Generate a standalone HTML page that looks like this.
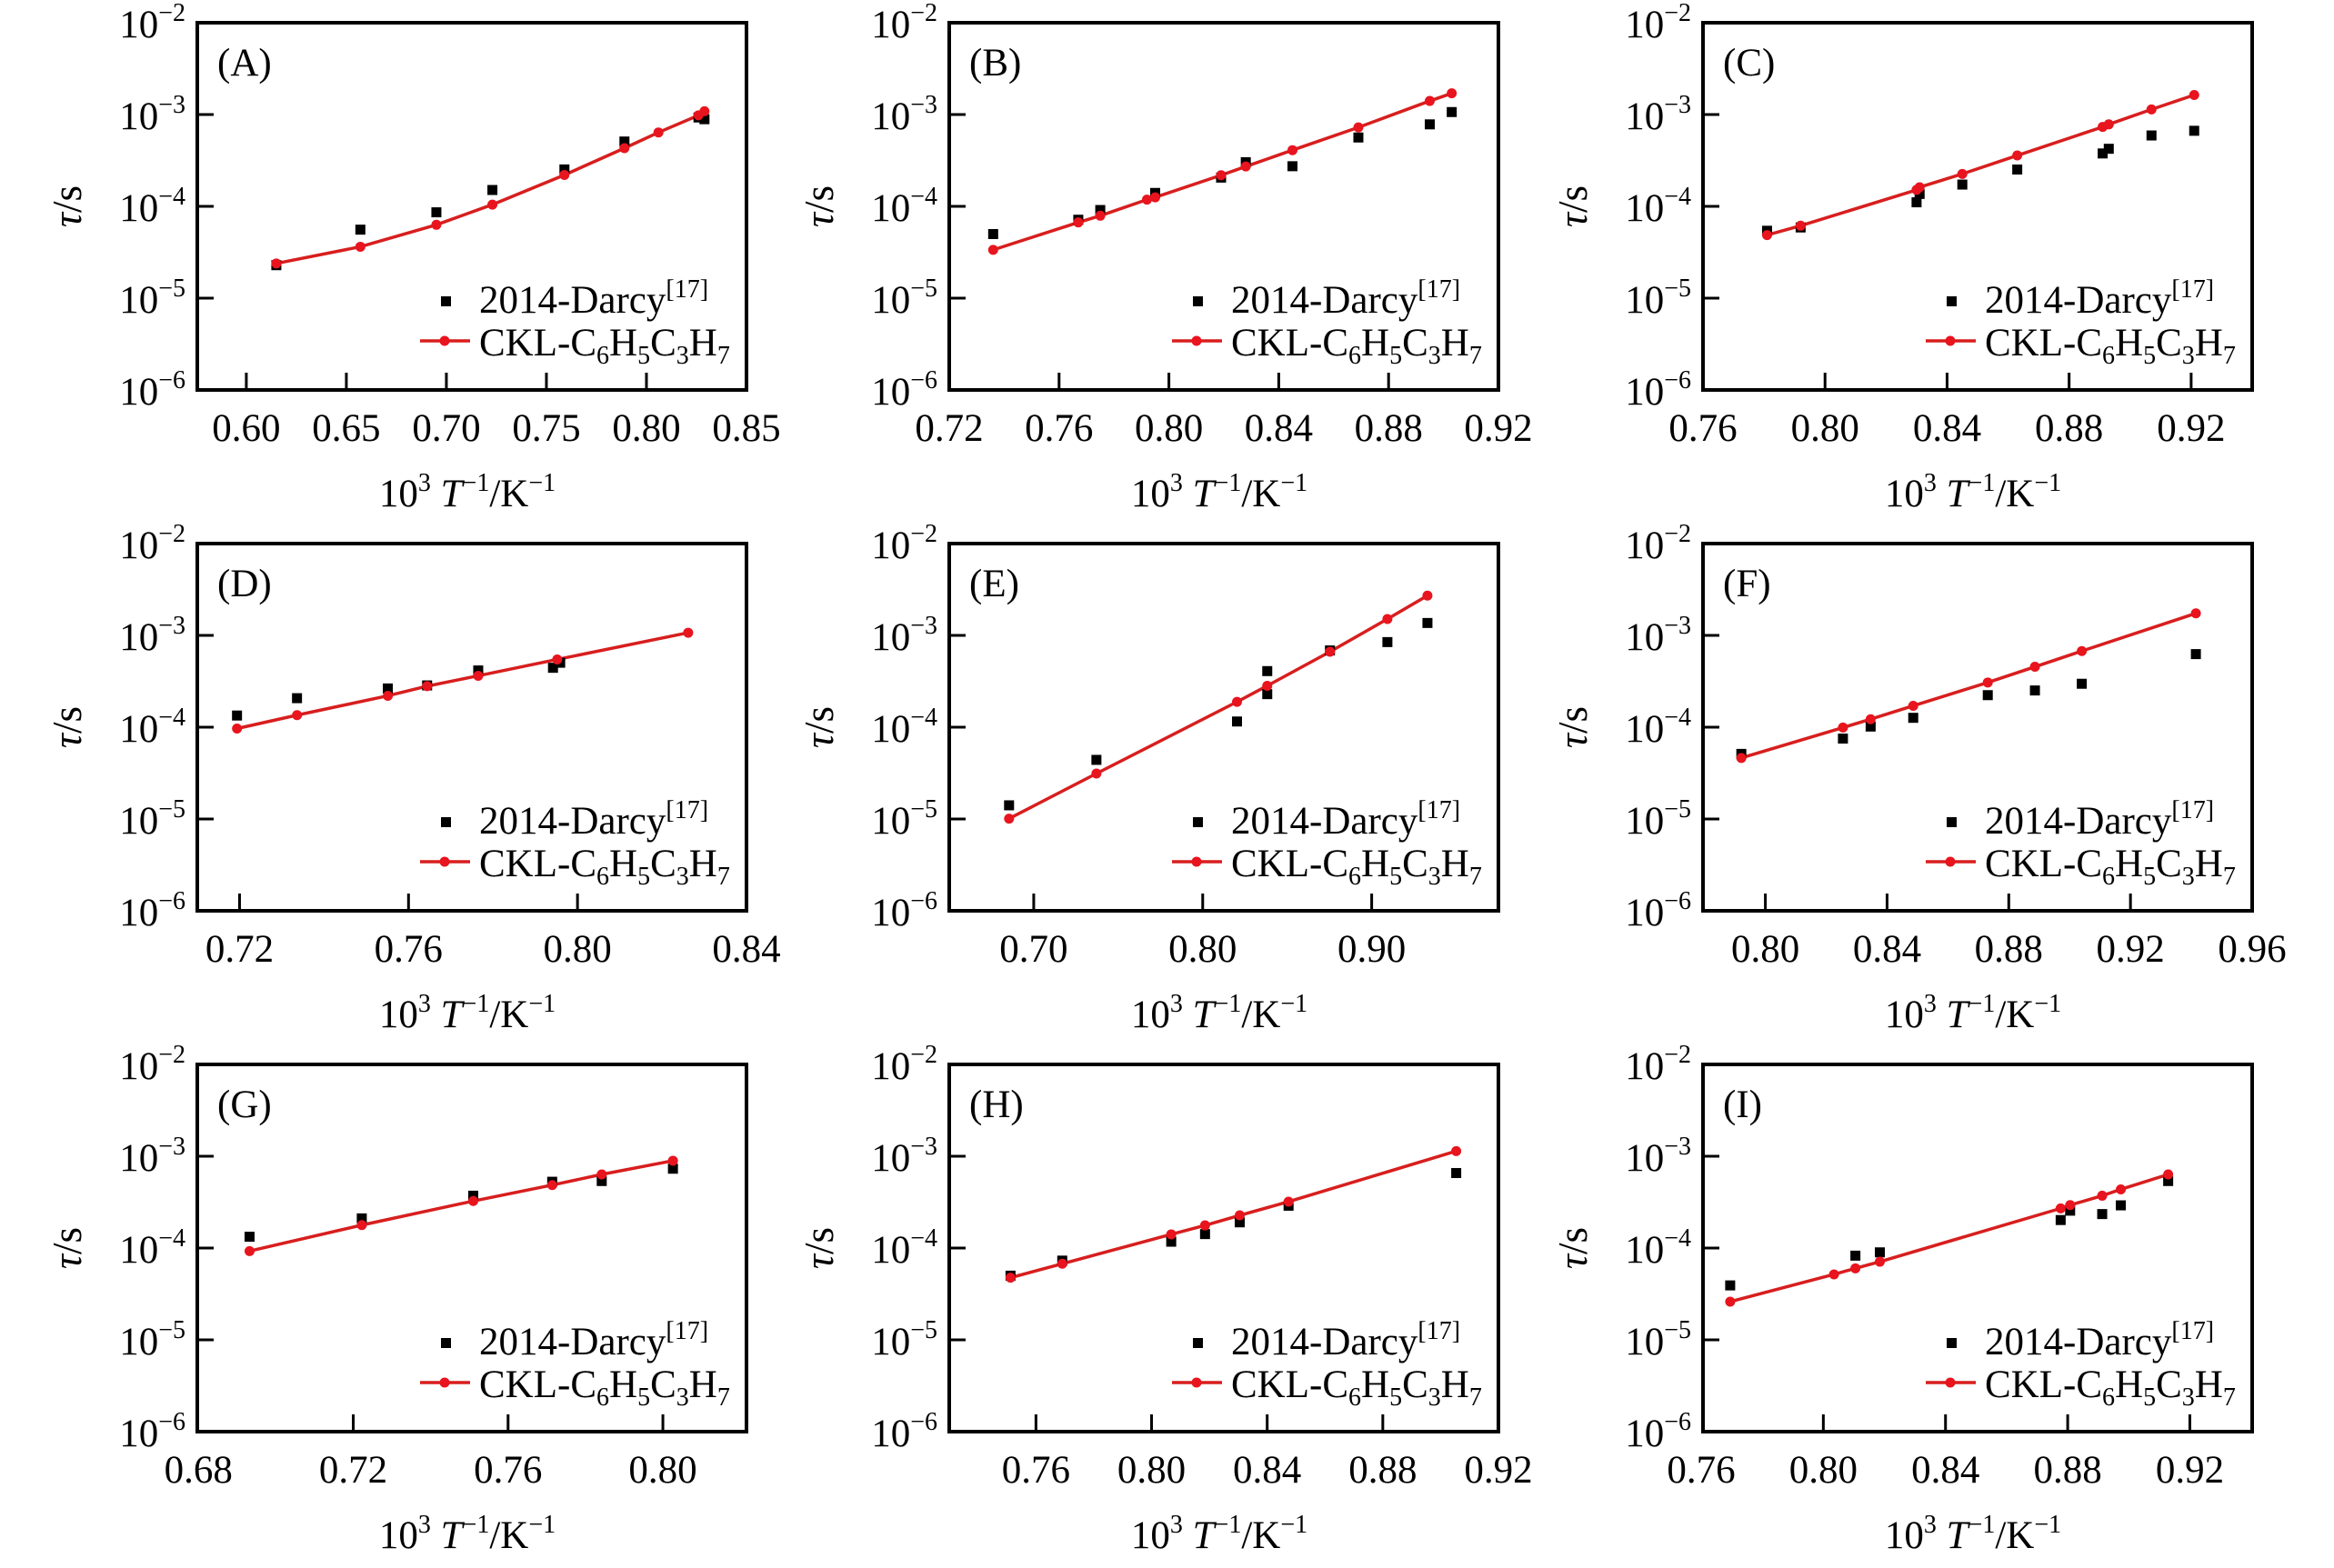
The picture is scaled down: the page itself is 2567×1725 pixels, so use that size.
<!DOCTYPE html>
<html><head><meta charset="utf-8"><style>
html,body{margin:0;padding:0;background:#fff;}
svg{display:block;font-family:"Liberation Serif",serif;}
</style></head>
<body>
<svg id="fig" width="2567" height="1725" viewBox="0 0 2567 1725" xmlns="http://www.w3.org/2000/svg"></svg>
<script>
// ---- data (x = 1000/T in K^-1, logTau = log10(tau / s)) ----
const panelIds = ['A','B','C','D','E','F','G','H','I'];
const xTicksA = [0.60,0.65,0.70,0.75,0.80,0.85];
const xTicksB = [0.72,0.76,0.80,0.84,0.88,0.92];
const xTicksC = [0.76,0.80,0.84,0.88,0.92];
const xTicksD = [0.72,0.76,0.80,0.84];
const xTicksE = [0.70,0.80,0.90];
const xTicksF = [0.80,0.84,0.88,0.92,0.96];
const xTicksG = [0.68,0.72,0.76,0.80];
const xTicksH = [0.76,0.80,0.84,0.88,0.92];
const xTicksI = [0.76,0.80,0.84,0.88,0.92];
const xDomainA = [0.5755,0.85];
const xDomainB = [0.72,0.92];
const xDomainC = [0.76,0.940];
const xDomainD = [0.710,0.84];
const xDomainE = [0.65,0.975];
const xDomainF = [0.7795,0.96];
const xDomainG = [0.6797,0.8216];
const xDomainH = [0.730,0.92];
const xDomainI = [0.7606,0.9404];
const yDecades = [-2,-3,-4,-5,-6];

const redXA = [0.615,0.657,0.695,0.723,0.759,0.789,0.806,0.826,0.829];
const redLogTauA = [-4.622,-4.440,-4.201,-3.981,-3.658,-3.366,-3.195,-3.009,-2.964];
const darcyXA = [0.615,0.657,0.695,0.723,0.759,0.789,0.826,0.829];
const darcyLogTauA = [-4.641,-4.254,-4.065,-3.822,-3.598,-3.294,-3.032,-3.051];

const redXB = [0.736,0.767,0.775,0.792,0.795,0.819,0.828,0.845,0.869,0.895,0.903];
const redLogTauB = [-4.474,-4.175,-4.102,-3.927,-3.902,-3.661,-3.566,-3.388,-3.140,-2.852,-2.769];
const darcyXB = [0.736,0.767,0.775,0.795,0.819,0.828,0.845,0.869,0.895,0.903];
const darcyLogTauB = [-4.302,-4.146,-4.040,-3.854,-3.687,-3.519,-3.563,-3.250,-3.107,-2.973];

const redXC = [0.781,0.792,0.830,0.831,0.845,0.863,0.891,0.893,0.907,0.921];
const redLogTauC = [-4.313,-4.211,-3.821,-3.792,-3.647,-3.446,-3.135,-3.107,-2.944,-2.787];
const darcyXC = [0.781,0.792,0.830,0.831,0.845,0.863,0.891,0.893,0.907,0.921];
const darcyLogTauC = [-4.266,-4.230,-3.956,-3.865,-3.763,-3.599,-3.424,-3.373,-3.228,-3.177];

const redXD = [0.7194,0.7336,0.7551,0.7644,0.7765,0.7952,0.8262];
const redLogTauD = [-4.015,-3.869,-3.658,-3.553,-3.440,-3.262,-2.971];
const darcyXD = [0.7194,0.7336,0.7551,0.7644,0.7765,0.7942,0.7959];
const darcyLogTauD = [-3.873,-3.684,-3.578,-3.545,-3.382,-3.353,-3.298];

const redXE = [0.6854,0.7371,0.8203,0.8382,0.8753,0.9093,0.9330];
const redLogTauE = [-4.996,-4.505,-3.724,-3.549,-3.178,-2.822,-2.567];
const darcyXE = [0.6854,0.7371,0.8203,0.8382,0.8382,0.8753,0.9093,0.9330];
const darcyLogTauE = [-4.851,-4.356,-3.938,-3.389,-3.640,-3.164,-3.073,-2.865];

const redXF = [0.7921,0.8255,0.8346,0.8486,0.8731,0.8886,0.9040,0.9415];
const redLogTauF = [-4.335,-4.004,-3.913,-3.767,-3.513,-3.342,-3.171,-2.760];
const darcyXF = [0.7921,0.8255,0.8346,0.8486,0.8731,0.8886,0.9040,0.9415];
const darcyLogTauF = [-4.291,-4.124,-3.993,-3.898,-3.651,-3.600,-3.527,-3.204];

const redXG = [0.6932,0.7222,0.7510,0.7714,0.7842,0.8026];
const redLogTauG = [-4.033,-3.750,-3.488,-3.314,-3.198,-3.049];
const darcyXG = [0.6932,0.7222,0.7510,0.7714,0.7842,0.8026];
const darcyLogTauG = [-3.877,-3.677,-3.430,-3.278,-3.270,-3.136];

const redXH = [0.7512,0.7691,0.8068,0.8185,0.8305,0.8474,0.9054];
const redLogTauH = [-4.323,-4.171,-3.851,-3.753,-3.644,-3.495,-2.944];
const darcyXH = [0.7512,0.7691,0.8068,0.8185,0.8305,0.8474,0.9054];
const darcyLogTauH = [-4.301,-4.137,-3.931,-3.848,-3.720,-3.539,-3.183];

const redXI = [0.7695,0.8035,0.8105,0.8185,0.8777,0.8808,0.8913,0.8974,0.9129];
const redLogTauI = [-4.584,-4.287,-4.221,-4.149,-3.568,-3.532,-3.430,-3.361,-3.198];
const darcyXI = [0.7695,0.8105,0.8185,0.8777,0.8808,0.8913,0.8974,0.9129];
const darcyLogTauI = [-4.407,-4.083,-4.047,-3.695,-3.593,-3.630,-3.535,-3.270];

// ---- rendering ----
const NS = 'http://www.w3.org/2000/svg';
const svg = document.getElementById('fig');
const colLeft = [217,1044,1873];
const rowTop = [25,598,1171];
const W = 604, H = 404;
const FS = 43, SS = 28;
const tickLabelsFmt = v => v.toFixed(2);

const panelData = {
  A:[xTicksA,xDomainA,redXA,redLogTauA,darcyXA,darcyLogTauA],
  B:[xTicksB,xDomainB,redXB,redLogTauB,darcyXB,darcyLogTauB],
  C:[xTicksC,xDomainC,redXC,redLogTauC,darcyXC,darcyLogTauC],
  D:[xTicksD,xDomainD,redXD,redLogTauD,darcyXD,darcyLogTauD],
  E:[xTicksE,xDomainE,redXE,redLogTauE,darcyXE,darcyLogTauE],
  F:[xTicksF,xDomainF,redXF,redLogTauF,darcyXF,darcyLogTauF],
  G:[xTicksG,xDomainG,redXG,redLogTauG,darcyXG,darcyLogTauG],
  H:[xTicksH,xDomainH,redXH,redLogTauH,darcyXH,darcyLogTauH],
  I:[xTicksI,xDomainI,redXI,redLogTauI,darcyXI,darcyLogTauI]
};

function mk(tag, parent){
  const e = document.createElementNS(NS, tag);
  parent.appendChild(e);
  return e;
}
function tspan(parent, txt, opts){
  const t = mk('tspan', parent);
  t.textContent = txt;
  if (opts) for (const k in opts) t.setAttribute(k, opts[k]);
  return t;
}

panelIds.forEach((id, idx) => {
  const [ticks, dom, rx, ry, bx, by] = panelData[id];
  const L = colLeft[idx % 3], T = rowTop[Math.floor(idx / 3)];
  const R = L + W, B = T + H;
  const xs = v => L + (v - dom[0]) / (dom[1] - dom[0]) * W;
  const ys = lv => T + (-2 - lv) / 4 * H;

  const g = mk('g', svg);
  
  

  ticks.forEach(v => {
    const x = xs(v);
    if (x > L + 3 && x < R - 3) {
      const tk = mk('line', g);
      
      
      tk.setAttribute('x1', x); tk.setAttribute('x2', x);
      tk.setAttribute('y1', B); tk.setAttribute('y2', B - 19);
      tk.setAttribute('stroke', '#000'); tk.setAttribute('stroke-width', 3);
    }
    const tl = mk('text', g);
    
    
    tl.setAttribute('x', x); tl.setAttribute('y', B + 56);
    tl.setAttribute('text-anchor', 'middle'); tl.setAttribute('font-size', FS);
    tl.textContent = tickLabelsFmt(v);
  });
  yDecades.forEach(d => {
    const y = ys(d);
    if (y > T + 3 && y < B - 3) {
      const tk = mk('line', g);
      
      
      tk.setAttribute('x1', L); tk.setAttribute('x2', L + 18);
      tk.setAttribute('y1', y); tk.setAttribute('y2', y);
      tk.setAttribute('stroke', '#000'); tk.setAttribute('stroke-width', 3);
    }
    const tl = mk('text', g);
    
    
    tl.setAttribute('x', L - 13); tl.setAttribute('y', y + 16);
    tl.setAttribute('text-anchor', 'end'); tl.setAttribute('font-size', FS);
    tspan(tl, '10');
    tspan(tl, '\u2212' + (-d), {dy: -18, 'font-size': SS});
  });

  const fr = mk('rect', g);
  
  
  fr.setAttribute('x', L); fr.setAttribute('y', T);
  fr.setAttribute('width', W); fr.setAttribute('height', H);
  fr.setAttribute('fill', 'none'); fr.setAttribute('stroke', '#000'); fr.setAttribute('stroke-width', 4);

  const pl = mk('text', g);
  
  
  pl.setAttribute('x', L + 22); pl.setAttribute('y', T + 58);
  pl.setAttribute('font-size', FS);
  pl.textContent = '(' + id + ')';

  const xt = mk('text', g);
  
  
  xt.setAttribute('x', L + W / 2 - 5); xt.setAttribute('y', B + 128);
  xt.setAttribute('text-anchor', 'middle'); xt.setAttribute('font-size', FS);
  tspan(xt, '10');
  tspan(xt, '3', {dy: -17, 'font-size': SS});
  tspan(xt, ' ', {dy: 17});
  tspan(xt, 'T', {'font-style': 'italic'});
  tspan(xt, '\u22121', {dy: -17, 'font-size': SS});
  tspan(xt, '/K', {dy: 17});
  tspan(xt, '\u22121', {dy: -17, 'font-size': SS});

  const yt = mk('text', g);
  
  
  yt.setAttribute('transform', 'translate(' + (L - 128) + ',' + (T + H / 2) + ') rotate(-90)');
  yt.setAttribute('text-anchor', 'middle'); yt.setAttribute('font-size', 45);
  tspan(yt, '\u03c4', {'font-style': 'italic'});
  tspan(yt, '/s');

  const pts = rx.map((v, i) => xs(v) + ',' + ys(ry[i])).join(' ');
  const pline = mk('polyline', g);
  
  
  pline.setAttribute('points', pts);
  pline.setAttribute('fill', 'none'); pline.setAttribute('stroke', '#d81e1e'); pline.setAttribute('stroke-width', 3.5);

  bx.forEach((v, i) => {
    const sq = mk('rect', g);
    
    
    sq.setAttribute('x', xs(v) - 5.5); sq.setAttribute('y', ys(by[i]) - 5.5);
    sq.setAttribute('width', 11); sq.setAttribute('height', 11);
    sq.setAttribute('fill', '#000');
  });
  rx.forEach((v, i) => {
    const c = mk('circle', g);
    
    
    c.setAttribute('cx', xs(v)); c.setAttribute('cy', ys(ry[i]));
    c.setAttribute('r', 5.5);
    c.setAttribute('fill', '#e8141e');
  });

  const lg = mk('g', g);
  
  
  const lsq = mk('rect', lg);
  
  
  lsq.setAttribute('x', L + 268); lsq.setAttribute('y', T + 301);
  lsq.setAttribute('width', 11); lsq.setAttribute('height', 11); lsq.setAttribute('fill', '#000');
  const lt1 = mk('text', lg);
  
  
  lt1.setAttribute('x', L + 310); lt1.setAttribute('y', T + 319);
  lt1.setAttribute('font-size', FS);
  tspan(lt1, '2014-Darcy');
  tspan(lt1, '[17]', {dy: -17, 'font-size': SS});
  const ll = mk('line', lg);
  
  
  ll.setAttribute('x1', L + 245); ll.setAttribute('x2', L + 300);
  ll.setAttribute('y1', T + 350); ll.setAttribute('y2', T + 350);
  ll.setAttribute('stroke', '#d81e1e'); ll.setAttribute('stroke-width', 3.5);
  const lc = mk('circle', lg);
  
  
  lc.setAttribute('cx', L + 272); lc.setAttribute('cy', T + 350); lc.setAttribute('r', 5.5);
  lc.setAttribute('fill', '#e8141e');
  const lt2 = mk('text', lg);
  
  
  lt2.setAttribute('x', L + 310); lt2.setAttribute('y', T + 366);
  lt2.setAttribute('font-size', FS);
  tspan(lt2, 'CKL-C');
  tspan(lt2, '6', {dy: 9, 'font-size': SS});
  tspan(lt2, 'H', {dy: -9});
  tspan(lt2, '5', {dy: 9, 'font-size': SS});
  tspan(lt2, 'C', {dy: -9});
  tspan(lt2, '3', {dy: 9, 'font-size': SS});
  tspan(lt2, 'H', {dy: -9});
  tspan(lt2, '7', {dy: 9, 'font-size': SS});
});
</script>
</body></html>
